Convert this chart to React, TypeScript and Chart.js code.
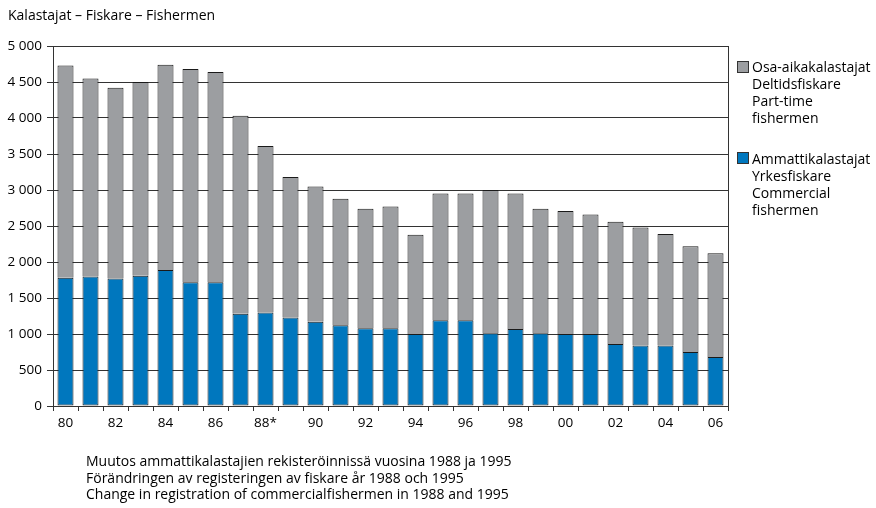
import React, { useEffect, useRef } from "react";
import { Chart, registerables } from "chart.js";

Chart.register(...registerables);

const years = ["80","81","82","83","84","85","86","87","88*","89","90","91","92","93","94","95","96","97","98","99","00","01","02","03","04","05","06"];
const totals = [4730,4550,4420,4500,4740,4680,4640,4030,3610,3180,3050,2880,2740,2770,2380,2950,2950,3000,2950,2740,2710,2660,2560,2480,2390,2220,2120];
const commercial = [1780,1800,1770,1810,1890,1720,1720,1280,1300,1230,1170,1120,1080,1080,1000,1190,1190,1010,1070,1010,1000,1000,860,840,840,750,680];
const partTime = totals.map((t, i) => t - commercial[i]);
const yTicks = [0,500,1000,1500,2000,2500,3000,3500,4000,4500,5000];

const titleText = "Kalastajat – Fiskare – Fishermen";
const legendPart = ["Osa-aikakalastajat", "Deltidsfiskare", "Part-time", "fishermen"];
const legendComm = ["Ammattikalastajat", "Yrkesfiskare", "Commercial", "fishermen"];
const notes = [
  "Muutos ammattikalastajien rekisteröinnissä vuosina 1988 ja 1995",
  "Förändringen av registeringen av fiskare år 1988 och 1995",
  "Change in registration of commercialfishermen in 1988 and 1995",
];

const GRAY = "#9c9ea1";
const BLUE = "#0077be";
const FONT = "'Open Sans', 'Noto Sans', sans-serif";

const fmt = (v: number) => {
  const s = String(v);
  return s.length > 3 ? s.slice(0, s.length - 3) + " " + s.slice(-3) : s;
};

const rightBorder = {
  id: "rightBorder",
  afterDatasetsDraw(chart: any) {
    const { ctx, chartArea } = chart;
    ctx.save();
    ctx.strokeStyle = "#333";
    ctx.lineWidth = 1;
    ctx.beginPath();
    ctx.moveTo(Math.round(chartArea.right) + 0.5, chartArea.top);
    ctx.lineTo(Math.round(chartArea.right) + 0.5, chartArea.bottom);
    ctx.stroke();
    ctx.restore();
  },
};

export default function App() {
  const ref = useRef<HTMLCanvasElement>(null);
  useEffect(() => {
    if (!ref.current) return;
    const chart = new Chart(ref.current, {
      type: "bar",
      data: {
        labels: years,
        datasets: [
          { label: "Ammattikalastajat", data: commercial, backgroundColor: BLUE, borderColor: "#1a1a1a", borderWidth: 1, borderSkipped: false, categoryPercentage: 1, barPercentage: 0.64 },
          { label: "Osa-aikakalastajat", data: partTime, backgroundColor: GRAY, borderColor: "#1a1a1a", borderWidth: 1, borderSkipped: "bottom", categoryPercentage: 1, barPercentage: 0.64 },
        ],
      },
      options: {
        animation: false,
        responsive: false,
        maintainAspectRatio: false,
        layout: { padding: { top: 46, right: 148, left: 0, bottom: 0 } },
        plugins: { legend: { display: false }, tooltip: { enabled: false }, title: { display: false } },
        scales: {
          x: {
            stacked: true,
            afterFit: (s: any) => { s.height = 102; },
            grid: { drawOnChartArea: false, offset: true, tickLength: 5, color: "#333" },
            border: { color: "#333", width: 1 },
            ticks: {
              autoSkip: false,
              maxRotation: 0,
              padding: 4,
              color: "#000",
              font: { family: FONT, size: 13.5 },
              callback: (_v: any, i: number) => (i % 2 === 0 ? years[i] : ""),
            },
          },
          y: {
            stacked: true,
            min: 0,
            max: 5000,
            afterFit: (s: any) => { s.width = 53; },
            afterBuildTicks: (s: any) => { s.ticks = yTicks.map((v) => ({ value: v })); },
            grid: { color: "#333", lineWidth: 1, tickLength: 6 },
            border: { color: "#333", width: 1 },
            ticks: {
              padding: 5,
              color: "#000",
              font: { family: FONT, size: 13.5 },
              callback: (v: any) => fmt(Number(v)),
            },
          },
        },
      },
      plugins: [rightBorder],
    });
    return () => chart.destroy();
  }, []);

  const textStyle: React.CSSProperties = { position: "absolute", fontFamily: FONT, fontSize: 14, color: "#000", whiteSpace: "nowrap", lineHeight: "17px" };
  const sq = (c: string): React.CSSProperties => ({ position: "absolute", width: 10, height: 10, background: c, border: "1px solid #333" });

  return (
    <div style={{ position: "absolute", left: 0, top: 0, width: 876, height: 508, background: "#fff" }}>
      <canvas ref={ref} width={876} height={508} style={{ position: "absolute", left: 0, top: 0, width: 876, height: 508 }} />
      <div style={{ ...textStyle, left: 8, top: 6 }}>{titleText}</div>
      <div style={{ ...sq(GRAY), left: 737, top: 61 }} />
      <div style={{ ...textStyle, left: 752, top: 58 }}>
        {legendPart.map((t) => <div key={t}>{t}</div>)}
      </div>
      <div style={{ ...sq(BLUE), left: 737, top: 152 }} />
      <div style={{ ...textStyle, left: 752, top: 150 }}>
        {legendComm.map((t) => <div key={t + "c"}>{t}</div>)}
      </div>
      <div style={{ ...textStyle, left: 86, top: 453, lineHeight: "16.5px" }}>
        {notes.map((t) => <div key={t}>{t}</div>)}
      </div>
    </div>
  );
}
